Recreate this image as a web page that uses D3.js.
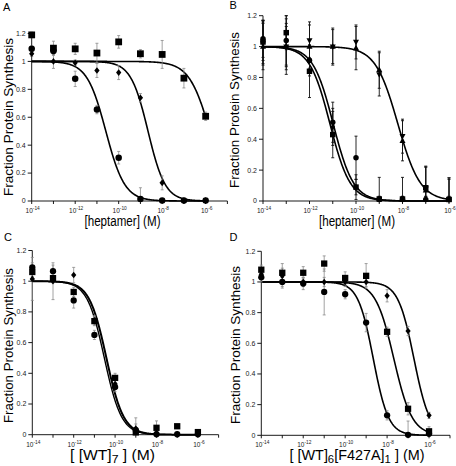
<!DOCTYPE html>
<html><head><meta charset="utf-8">
<script src="https://cdn.jsdelivr.net/npm/d3@7"></script>
<style>body{margin:0;background:#fff}svg{display:block}</style>
</head><body><svg id="c" width="456" height="466"></svg>
<script>
// ---------- data ----------
const conc = [1e-14, 1e-13, 1e-12, 1e-11, 1e-10, 1e-9, 1e-8, 1e-7, 1e-6];
const yTicks = [0, 0.2, 0.4, 0.6, 0.8, 1, 1.2];
const yTickLabels = ["0", "0.2", "0.4", "0.6", "0.8", "1", "1.2"];
const xTickValues = [1e-14, 1e-12, 1e-10, 1e-8, 1e-6];
const xTickExps = ["-14", "-12", "-10", "-8", "-6"];
const panelLetters = ["A", "B", "C", "D"];
const yTitle = "Fraction Protein Synthesis";

// Panel A
const aSquare = [1.19, 1.095, 1.09, 1.06, 1.14, 1.055, 1.05, 0.88, 0.607];
const aSquareErr = [0.02, 0.05, 0.04, 0.07, 0.045, 0.03, 0.1, 0.07, 0.03];
const aCircle = [1.09, 1.075, 0.875, 0.655, 0.31, 0.015, 0.003, 0.003, 0.003];
const aCircleErr = [0.02, 0.03, 0.055, 0.03, 0.045, 0.08, 0.01, 0.01, 0.01];
const aDiamond = [1.055, 1.0, 0.99, 0.935, 0.92, 0.74, 0.13, 0.003, 0.003];
const aDiamondErr = [0.02, 0.05, 0.02, 0.05, 0.05, 0.03, 0.05, 0.01, 0.01];
const aLogIC50 = [-5.8, -10.59, -8.65];   // square, circle, diamond fits
const aHill = [0.9, 1.0, 1.1];

// Panel B
const bSquare = [1.03, 1.09, 0.84, 0.43, 0.09, 0.013, 0.013, 0.086, 0.01];
const bSquareErr = [0.14, 0.11, 0.17, 0.15, 0.08, 0.14, 0.14, 0.14, 0.14];
const bCircle = [1.05, 1.04, 0.91, 0.51, 0.28, 0.01, 0.01, 0.01, 0.01];
const bCircleErr = [0.12, 0.16, 0.1, 0.13, 0.14, 0.02, 0.02, 0.02, 0.02];
const bDiamond = [1.04, 1.0, 0.92, 0.48, 0.09, 0.01, 0.01, 0.01, 0.01];
const bDiamondErr = [0.13, 0.13, 0.08, 0.12, 0.05, 0.02, 0.02, 0.02, 0.02];
const bTriUp = [1.0, 1.0, 1.0, 1.0, 0.99, 0.85, 0.39, 0.07, 0.01];
const bTriUpErr = [0.15, 0.15, 0.14, 0.12, 0.14, 0.12, 0.13, 0.15, 0.14];
const bTriDown = [1.02, 1.0, 1.04, 1.0, 1.03, 0.82, 0.42, 0.08, 0.01];
const bTriDownErr = [0.14, 0.18, 0.12, 0.11, 0.11, 0.14, 0.11, 0.14, 0.13];
const bLogIC50 = [-11.12, -10.98, -8.2];
const bHill = [1.0, 1.0, 0.9];

// Panel C
const cSquare = [1.06, 1.02, 0.93, 0.74, 0.37, 0.015, 0.045, 0.055, 0.017];
const cSquareErr = [0.03, 0.03, 0.03, 0.03, 0.03, 0.02, 0.045, 0.01, 0.01];
const cCircle = [1.09, 1.065, 0.875, 0.65, 0.31, 0.03, 0.003, 0.003, 0.003];
const cCircleErr = [0.03, 0.04, 0.05, 0.03, 0.03, 0.08, 0.01, 0.01, 0.01];
const cDiamond = [1.015, 1.0, 1.04, 0.745, 0.33, 0.04, 0.01, 0.003, 0.003];
const cDiamondErr = [0.14, 0.12, 0.05, 0.03, 0.03, 0.03, 0.03, 0.01, 0.01];
const cLogIC50 = [-10.42, -10.52];
const cHill = [1.05, 1.05];

// Panel D
const dSquare = [1.08, 1.06, 1.06, 1.12, 1.026, 1.04, 0.675, 0.173, 0.026];
const dSquareErr = [0.03, 0.03, 0.04, 0.05, 0.04, 0.08, 0.03, 0.04, 0.03];
const dCircle = [1.03, 1.0, 0.99, 0.935, 0.92, 0.735, 0.13, 0.003, 0.01];
const dCircleErr = [0.03, 0.03, 0.04, 0.15, 0.03, 0.06, 0.03, 0.09, 0.02];
const dDiamond = [1.05, 1.04, 1.0, 1.0, 1.0, 1.0, 0.91, 0.68, 0.13];
const dDiamondErr = [0.03, 0.08, 0.03, 0.03, 0.03, 0.03, 0.04, 0.03, 0.02];
const dLogIC50 = [-8.66, -7.68, -6.72];
const dHill = [1.2, 1.0, 1.15];

// ---------- drawing ----------
const svg = d3.select("#c");
const FONT = "'Liberation Sans', Arial, Helvetica, sans-serif";

const shapes = {
  square: s => `M${-s/2},${-s/2}h${s}v${s}h${-s}Z`,
  circle: s => d3.symbol(d3.symbolCircle, Math.PI * (s/2) * (s/2))(),
  diamond: s => `M0,${-s*0.6}L${s*0.48},0L0,${s*0.6}L${-s*0.48},0Z`,
  triUp: s => `M0,${-s*0.6}L${s*0.55},${s*0.4}L${-s*0.55},${s*0.4}Z`,
  triDown: s => `M0,${s*0.6}L${s*0.55},${-s*0.4}L${-s*0.55},${-s*0.4}Z`
};

function hill(logc, logIC50, h) { return 1 / (1 + Math.pow(10, h * (logc - logIC50))); }

function panel(cfg) {
  const g = svg.append("g");
  const x = d3.scaleLog().domain(cfg.xDomain).range(cfg.xRange);
  const y = d3.scaleLinear().domain([0, 1.2]).range(cfg.yRange);

  // y axis
  g.append("line").attr("x1", x(cfg.xDomain[0])).attr("x2", x(cfg.xDomain[0]))
    .attr("y1", y(0)).attr("y2", y(1.2)).attr("stroke", "#000").attr("stroke-width", 0.9);
  yTicks.forEach((t, i) => {
    g.append("line").attr("x1", x(cfg.xDomain[0]) - 4).attr("x2", x(cfg.xDomain[0]))
      .attr("y1", y(t)).attr("y2", y(t)).attr("stroke", "#000").attr("stroke-width", 0.9);
    g.append("text").attr("x", x(cfg.xDomain[0]) - 6).attr("y", y(t) + 2.4)
      .attr("text-anchor", "end").attr("font-size", 7).attr("font-family", FONT)
      .attr("fill", "#222").text(yTickLabels[i]);
  });
  // x axis
  g.append("line").attr("x1", x(cfg.xDomain[0])).attr("x2", x(cfg.xDomain[1]))
    .attr("y1", y(0)).attr("y2", y(0)).attr("stroke", "#000").attr("stroke-width", 0.9);
  const allTicks = x.ticks().filter(t => Math.abs(Math.log10(t) - Math.round(Math.log10(t))) < 1e-9);
  allTicks.forEach(t => {
    g.append("line").attr("x1", x(t)).attr("x2", x(t)).attr("y1", y(0)).attr("y2", y(0) + 3)
      .attr("stroke", "#000").attr("stroke-width", 0.9);
  });
  xTickValues.forEach((t, i) => {
    if (t > cfg.xDomain[1] * 1.0001) return;
    const tx = g.append("text").attr("x", x(t) + 1).attr("y", y(0) + 12)
      .attr("text-anchor", "middle").attr("font-size", 6.5).attr("font-family", FONT).attr("fill", "#222");
    tx.append("tspan").text("10");
    tx.append("tspan").attr("dy", -3).attr("font-size", 4.8).text(xTickExps[i]);
  });

  // curves
  const line = d3.line().x(d => x(d[0])).y(d => y(d[1])).curve(d3.curveLinear);
  cfg.fits.forEach(f => {
    const pts = d3.range(0, 401).map(k => {
      const lc = -14 + k * 8 / 400;
      return [Math.pow(10, lc), hill(lc, f.ic, f.h)];
    });
    g.append("path").attr("d", line(pts)).attr("fill", "none")
      .attr("stroke", "#000").attr("stroke-width", f.w || 1.6);
  });

  // error bars
  cfg.series.forEach(s => {
    s.v.forEach((v, i) => {
      const lo = Math.max(0, v - s.e[i]), hi = v + s.e[i];
      const cx = x(conc[i]);
      const eb = g.append("g").attr("stroke", cfg.errColor).attr("stroke-width", cfg.errW);
      eb.append("line").attr("x1", cx).attr("x2", cx).attr("y1", y(lo)).attr("y2", y(hi));
      eb.append("line").attr("x1", cx - 1.5).attr("x2", cx + 1.5).attr("y1", y(hi)).attr("y2", y(hi));
      eb.append("line").attr("x1", cx - 1.5).attr("x2", cx + 1.5).attr("y1", y(lo)).attr("y2", y(lo));
    });
  });
  // markers
  cfg.series.forEach(s => {
    s.v.forEach((v, i) => {
      g.append("path").attr("d", shapes[s.shape](s.size))
        .attr("transform", `translate(${x(conc[i])},${y(v)})`).attr("fill", "#000");
    });
  });

  // titles
  g.append("text").attr("transform", `translate(${cfg.yTitle[0]},${cfg.yTitle[1]}) rotate(-90)`)
    .attr("text-anchor", "middle").attr("font-size", 13.5).attr("font-family", FONT)
    .attr("textLength", cfg.yTitle[2]).attr("lengthAdjust", "spacingAndGlyphs").text(yTitle);
  const xt = g.append("text").attr("x", cfg.xTitle[0]).attr("y", cfg.xTitle[1])
    .attr("text-anchor", "middle").attr("font-size", 14).attr("font-family", FONT)
    .attr("textLength", cfg.xTitle[2]).attr("lengthAdjust", "spacingAndGlyphs");
  cfg.xTitleParts.forEach(p => {
    const ts = xt.append("tspan").text(p[0]);
    if (p[1] === "sub") ts.attr("font-size", 11).attr("dy", 3);
    if (p[1] === "back") ts.attr("dy", -3);
  });
  g.append("text").attr("x", cfg.letter[0]).attr("y", cfg.letter[1])
    .attr("font-size", 11).attr("font-family", FONT).text(cfg.letter[2]);
}

panel({
  xDomain: [1e-14, 1e-5], xRange: [31.7, 227.4], yRange: [201, 33.5],
  errColor: "#8a8a8a", errW: 0.8,
  series: [
    { v: aDiamond, e: aDiamondErr, shape: "diamond", size: 5.5 },
    { v: aCircle, e: aCircleErr, shape: "circle", size: 6.5 },
    { v: aSquare, e: aSquareErr, shape: "square", size: 6.8 }
  ],
  fits: aLogIC50.map((ic, i) => ({ ic, h: aHill[i] })),
  yTitle: [12.5, 117, 158], xTitle: [122.5, 226, 76],
  xTitleParts: [["[heptamer] (M)"]],
  letter: [3, 10.5, panelLetters[0]]
});

panel({
  xDomain: [1e-14, 1e-6], xRange: [263, 449], yRange: [201, 15.7],
  errColor: "#111", errW: 0.9,
  series: [
    { v: bTriUp, e: bTriUpErr, shape: "triUp", size: 5.5 },
    { v: bTriDown, e: bTriDownErr, shape: "triDown", size: 5.5 },
    { v: bDiamond, e: bDiamondErr, shape: "diamond", size: 5 },
    { v: bCircle, e: bCircleErr, shape: "circle", size: 5.5 },
    { v: bSquare, e: bSquareErr, shape: "square", size: 5.5 }
  ],
  fits: bLogIC50.map((ic, i) => ({ ic, h: bHill[i] })),
  yTitle: [239, 110, 156], xTitle: [357, 226, 76],
  xTitleParts: [["[heptamer] (M)"]],
  letter: [229.5, 8.5, panelLetters[1]]
});

panel({
  xDomain: [1e-14, 1e-5], xRange: [32.3, 218.6], yRange: [434.7, 250.5],
  errColor: "#8a8a8a", errW: 0.8,
  series: [
    { v: cDiamond, e: cDiamondErr, shape: "diamond", size: 5.5 },
    { v: cCircle, e: cCircleErr, shape: "circle", size: 6.3 },
    { v: cSquare, e: cSquareErr, shape: "square", size: 6.3 }
  ],
  fits: cLogIC50.map((ic, i) => ({ ic, h: cHill[i], w: i === 0 ? 2 : 1.4 })),
  yTitle: [12.5, 345.5, 155], xTitle: [112.5, 460, 85],
  xTitleParts: [["[ [WT]"], ["7", "sub"], [" ] (M)", "back"]],
  letter: [4, 240.5, panelLetters[2]]
});

panel({
  xDomain: [1e-14, 1e-5], xRange: [261.3, 450], yRange: [435.3, 251.3],
  errColor: "#8a8a8a", errW: 0.8,
  series: [
    { v: dDiamond, e: dDiamondErr, shape: "diamond", size: 5.5 },
    { v: dCircle, e: dCircleErr, shape: "circle", size: 6.3 },
    { v: dSquare, e: dSquareErr, shape: "square", size: 6.3 }
  ],
  fits: dLogIC50.map((ic, i) => ({ ic, h: dHill[i] })),
  yTitle: [239.5, 345, 158], xTitle: [357, 460, 135],
  xTitleParts: [["[ [WT]"], ["6", "sub"], ["[F427A]", "back"], ["1", "sub"], [" ] (M)", "back"]],
  letter: [229.5, 241, panelLetters[3]]
});
</script>
</body></html>
